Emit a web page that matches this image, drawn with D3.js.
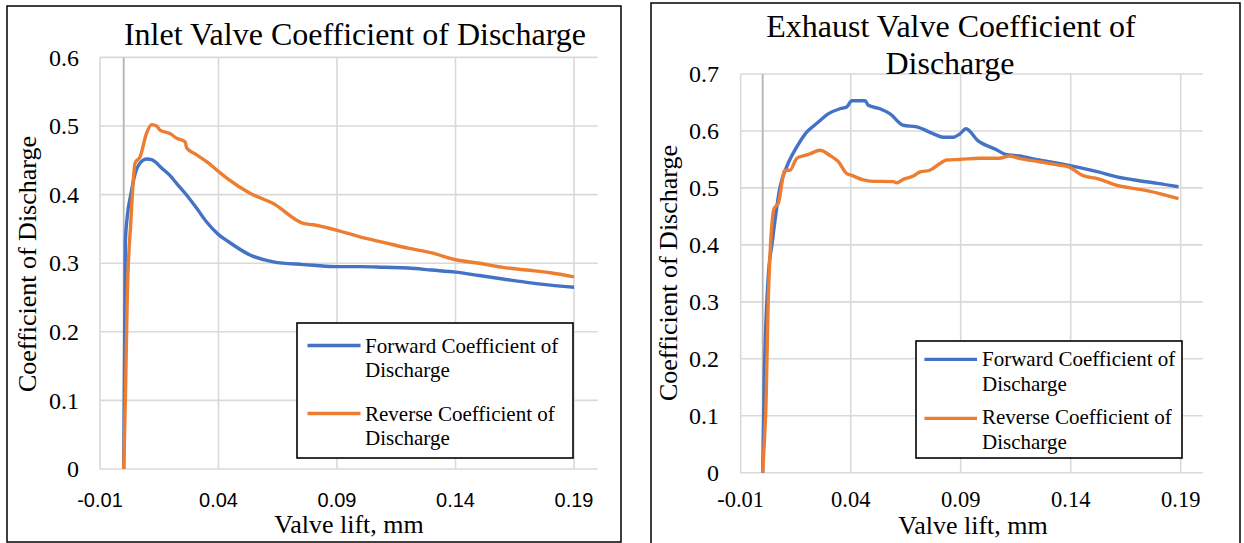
<!DOCTYPE html>
<html>
<head>
<meta charset="utf-8">
<script src="https://cdn.jsdelivr.net/npm/d3@7"></script>
<style>
  html, body { margin: 0; padding: 0; background: #fff; }
  svg { display: block; }
</style>
</head>
<body>
<svg id="chart" width="1244" height="543"></svg>
<script>
// ---------------- DATA ----------------
const xTicks = [-0.01, 0.04, 0.09, 0.14, 0.19];
const xTickLabels = ["-0.01", "0.04", "0.09", "0.14", "0.19"];
const inletYTicks = [0, 0.1, 0.2, 0.3, 0.4, 0.5, 0.6];
const inletYTickLabels = ["0", "0.1", "0.2", "0.3", "0.4", "0.5", "0.6"];
const exhaustYTicks = [0, 0.1, 0.2, 0.3, 0.4, 0.5, 0.6, 0.7];
const exhaustYTickLabels = ["0", "0.1", "0.2", "0.3", "0.4", "0.5", "0.6", "0.7"];

const seriesNames = ["Forward Coefficient of Discharge", "Reverse Coefficient of Discharge"];

// Inlet valve: valve lift (mm)
const inletLift = [0, 0.0007, 0.0015, 0.003, 0.0048, 0.0069, 0.0097, 0.0118, 0.0139, 0.0153, 0.0195,
  0.0224, 0.0259, 0.0266, 0.0308, 0.035, 0.0399, 0.0435, 0.0533, 0.0631, 0.0758, 0.08, 0.09, 0.1,
  0.11, 0.12, 0.13, 0.14, 0.15, 0.16, 0.17, 0.18, 0.19];
const inletForward = [0, 0.33, 0.368, 0.40, 0.43, 0.446, 0.452, 0.451, 0.446, 0.441, 0.428,
  0.416, 0.402, 0.399, 0.38, 0.36, 0.342, 0.333, 0.312, 0.302, 0.298, 0.297, 0.295, 0.295,
  0.294, 0.293, 0.29, 0.287, 0.282, 0.277, 0.272, 0.268, 0.265];
const inletReverse = [0, 0.1, 0.25, 0.36, 0.446, 0.455, 0.49, 0.502, 0.5, 0.494, 0.489,
  0.482, 0.477, 0.468, 0.458, 0.448, 0.434, 0.424, 0.402, 0.387, 0.358, 0.356, 0.348, 0.338,
  0.33, 0.322, 0.315, 0.305, 0.3, 0.294, 0.29, 0.286, 0.28];

// Exhaust valve
const exhaustForwardLift = [0, 0.0007, 0.0025, 0.0043, 0.0079, 0.0109, 0.0155, 0.02, 0.0245, 0.0298,
  0.0351, 0.0382, 0.0405, 0.0465, 0.048, 0.0533, 0.0579, 0.0639, 0.07, 0.0776, 0.0821, 0.0866,
  0.0897, 0.0924, 0.0978, 0.1058, 0.1103, 0.1166, 0.1256, 0.1346, 0.1436, 0.1525, 0.1615, 0.1705,
  0.1795, 0.189];
const exhaustForward = [0, 0.16, 0.343, 0.403, 0.502, 0.537, 0.572, 0.598, 0.613, 0.630,
  0.639, 0.642, 0.653, 0.653, 0.645, 0.639, 0.630, 0.610, 0.607, 0.595, 0.589, 0.589,
  0.595, 0.604, 0.583, 0.568, 0.559, 0.556, 0.549, 0.543, 0.536, 0.528, 0.519, 0.513,
  0.508, 0.502];
const exhaustReverseLift = [0, 0.0007, 0.0015, 0.0025, 0.0052, 0.0071, 0.0101, 0.0124, 0.0155, 0.0192,
  0.0215, 0.026, 0.0306, 0.0344, 0.0382, 0.0405, 0.0457, 0.0488, 0.0594, 0.0609, 0.0639, 0.0685,
  0.0715, 0.076, 0.0806, 0.0836, 0.0897, 0.0986, 0.1076, 0.1121, 0.1166, 0.1256, 0.1346, 0.1391,
  0.1454, 0.1525, 0.1615, 0.1705, 0.1795, 0.189];
const exhaustReverse = [0, 0.05, 0.12, 0.3, 0.464, 0.473, 0.531, 0.531, 0.552, 0.557,
  0.560, 0.566, 0.557, 0.546, 0.525, 0.522, 0.514, 0.512, 0.511, 0.509, 0.515, 0.521,
  0.528, 0.531, 0.543, 0.549, 0.550, 0.552, 0.552, 0.556, 0.552, 0.546, 0.540, 0.537,
  0.522, 0.516, 0.504, 0.498, 0.491, 0.481];

// ---------------- DRAWING ----------------
const svg = d3.select("#chart");
const SERIF = "'Liberation Serif', 'Times New Roman', serif";
const SANS = "'Liberation Sans', Arial, sans-serif";
const BLUE = "#4472C4", ORANGE = "#ED7D31";

function drawChart(cfg) {
  const g = svg.append("g");
  // panel border
  g.append("rect").attr("x", cfg.panel[0]).attr("y", cfg.panel[1])
    .attr("width", cfg.panel[2]).attr("height", cfg.panel[3])
    .attr("fill", "none").attr("stroke", "#000").attr("stroke-width", 1.5);

  const x = d3.scaleLinear().domain([-0.01, 0.2]).range(cfg.xRange);
  const y = d3.scaleLinear().domain([0, cfg.yMax]).range(cfg.yRange);

  // horizontal gridlines
  g.selectAll(".hg").data(cfg.yTicks).join("line")
    .attr("x1", x(-0.01)).attr("x2", x(0.2))
    .attr("y1", d => y(d)).attr("y2", d => y(d))
    .attr("stroke", "#d9d9d9").attr("stroke-width", 1.6);
  // vertical gridlines
  g.selectAll(".vg").data(xTicks).join("line")
    .attr("x1", d => x(d)).attr("x2", d => x(d))
    .attr("y1", y(0)).attr("y2", y(cfg.yMax))
    .attr("stroke", "#d9d9d9").attr("stroke-width", 1.6);
  // vertical axis at x = 0
  g.append("line").attr("x1", x(0)).attr("x2", x(0))
    .attr("y1", y(0)).attr("y2", y(cfg.yMax))
    .attr("stroke", "#b4b4b4").attr("stroke-width", 1.8);

  // y tick labels
  g.selectAll(".yl").data(cfg.yTicks).join("text")
    .attr("x", cfg.yLabelX).attr("y", d => y(d)).attr("dy", "0.34em")
    .attr("text-anchor", "end").attr("font-family", SERIF).attr("font-size", 24)
    .attr("fill", "#000").text((d, i) => cfg.yTickLabels[i]);
  // x tick labels
  g.selectAll(".xl").data(xTicks).join("text")
    .attr("x", d => x(d)).attr("y", cfg.xLabelY)
    .attr("text-anchor", "middle").attr("font-family", cfg.xTickFont)
    .attr("font-size", cfg.xTickSize).attr("fill", "#000")
    .text((d, i) => xTickLabels[i]);

  // lines
  const line = d3.line().x(d => x(d[0])).y(d => y(d[1])).curve(d3.curveMonotoneX);
  const fwd = cfg.fLift.map((v, i) => [v, cfg.fVals[i]]);
  const rev = cfg.rLift.map((v, i) => [v, cfg.rVals[i]]);
  g.append("path").datum(fwd).attr("d", line).attr("fill", "none")
    .attr("stroke", BLUE).attr("stroke-width", 3.4).attr("stroke-linejoin", "round");
  g.append("path").datum(rev).attr("d", line).attr("fill", "none")
    .attr("stroke", ORANGE).attr("stroke-width", 3.4).attr("stroke-linejoin", "round");

  // titles
  cfg.title.forEach(t => {
    g.append("text").attr("x", t[1]).attr("y", t[2]).attr("text-anchor", "middle")
      .attr("font-family", SERIF).attr("font-size", 32).attr("fill", "#000").text(t[0]);
  });
  // y axis title
  g.append("text").attr("transform", `translate(${cfg.yTitle[0]},${cfg.yTitle[1]}) rotate(-90)`)
    .attr("text-anchor", "middle").attr("font-family", SERIF).attr("font-size", 26)
    .attr("fill", "#000").text("Coefficient of Discharge");
  // x axis title
  g.append("text").attr("x", cfg.xTitle[0]).attr("y", cfg.xTitle[1]).attr("text-anchor", "middle")
    .attr("font-family", SERIF).attr("font-size", 26).attr("fill", "#000").text("Valve lift, mm");

  // legend
  const L = cfg.legend;
  g.append("rect").attr("x", L.box[0]).attr("y", L.box[1]).attr("width", L.box[2]).attr("height", L.box[3])
    .attr("fill", "#fff").attr("stroke", "#000").attr("stroke-width", 1.6);
  [BLUE, ORANGE].forEach((c, i) => {
    const ly = L.lineY[i];
    g.append("line").attr("x1", L.lineX[0]).attr("x2", L.lineX[1]).attr("y1", ly).attr("y2", ly)
      .attr("stroke", c).attr("stroke-width", 3.4);
    const words = seriesNames[i].split(" ");
    const l1 = words.slice(0, 3).join(" "), l2 = words.slice(3).join(" ");
    g.append("text").attr("x", L.textX).attr("y", L.textY[i]).attr("font-family", SERIF)
      .attr("font-size", 21).attr("fill", "#000").text(l1);
    g.append("text").attr("x", L.textX).attr("y", L.textY[i] + L.gap).attr("font-family", SERIF)
      .attr("font-size", 21).attr("fill", "#000").text(l2);
  });
}

// Inlet chart
drawChart({
  panel: [7, 6, 614, 536],
  xRange: [100, 597.7], yRange: [469, 57.4], yMax: 0.6,
  yTicks: inletYTicks, yTickLabels: inletYTickLabels, yLabelX: 79,
  xLabelY: 507, xTickFont: SANS, xTickSize: 20,
  fLift: inletLift, fVals: inletForward, rLift: inletLift, rVals: inletReverse,
  title: [["Inlet Valve Coefficient of Discharge", 355, 45]],
  yTitle: [36, 264], xTitle: [349, 533],
  legend: { box: [297, 323, 276, 135], lineX: [307.5, 360.5], lineY: [345.5, 413.5],
            textX: 365, textY: [352.5, 420.8], gap: 24.2 }
});

// Exhaust chart
drawChart({
  panel: [651, 3, 589, 545],
  xRange: [740.7, 1202.7], yRange: [472.7, 74], yMax: 0.7,
  yTicks: exhaustYTicks, yTickLabels: exhaustYTickLabels, yLabelX: 719,
  xLabelY: 507, xTickFont: SERIF, xTickSize: 22.5,
  fLift: exhaustForwardLift, fVals: exhaustForward, rLift: exhaustReverseLift, rVals: exhaustReverse,
  title: [["Exhaust Valve Coefficient of", 951, 37], ["Discharge", 950, 74]],
  yTitle: [677, 273], xTitle: [973, 534],
  legend: { box: [916, 341, 266, 117], lineX: [924.4, 977], lineY: [359.4, 418.4],
            textX: 982, textY: [366.3, 424.3], gap: 24.2 }
});
</script>
</body>
</html>
